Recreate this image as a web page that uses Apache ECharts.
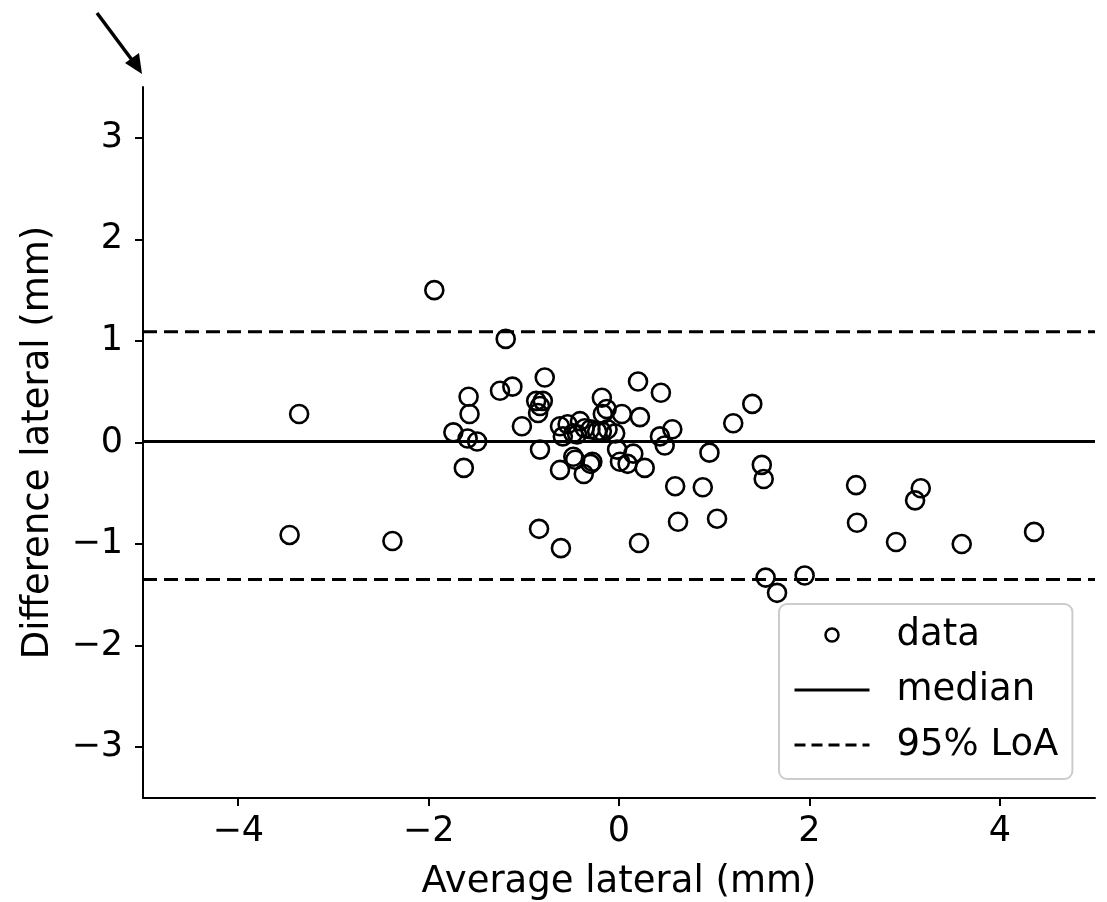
<!DOCTYPE html>
<html>
<head>
<meta charset="utf-8">
<script src="https://cdn.jsdelivr.net/npm/echarts@6/dist/echarts.min.js"></script>
<style>
html,body{margin:0;padding:0;background:#fff;}
#chart{width:1107px;height:902px;}
</style>
</head>
<body>
<div id="chart"></div>
<script>
const avgLateral = [-1.94,-1.19,-3.36,-3.46,-2.38,-1.74,-1.58,-1.57,-1.59,-1.49,-1.63,-1.25,-1.12,-1.02,-0.78,-0.87,-0.80,-0.83,-0.85,-0.83,-0.84,-0.61,-0.62,-0.62,-0.54,-0.41,-0.36,-0.59,-0.44,-0.48,-0.30,-0.23,-0.18,-0.12,-0.04,-0.18,-0.13,-0.17,0.03,0.22,0.20,0.44,0.43,0.56,0.48,-0.02,0.15,-0.48,-0.46,-0.28,-0.30,0.01,0.09,-0.37,0.27,0.21,0.59,0.62,0.88,0.95,1.03,1.20,1.40,1.50,1.52,1.54,1.66,1.95,2.49,2.50,2.91,3.11,3.17,3.60,4.36];
const diffLateral = [1.50,1.02,0.28,-0.91,-0.97,0.10,0.45,0.28,0.04,0.01,-0.25,0.51,0.55,0.16,0.64,0.41,0.41,0.36,0.29,-0.07,-0.85,-1.04,-0.27,0.16,0.18,0.21,0.14,0.06,0.08,0.09,0.13,0.11,0.11,0.13,0.09,0.44,0.33,0.28,0.28,0.25,0.60,0.49,0.06,0.13,-0.03,-0.07,-0.11,-0.14,-0.17,-0.19,-0.21,-0.19,-0.21,-0.31,-0.25,-0.99,-0.43,-0.78,-0.44,-0.10,-0.75,0.19,0.38,-0.22,-0.36,-1.33,-1.48,-1.31,-0.42,-0.79,-0.98,-0.57,-0.45,-1.00,-0.88];
const medianValue = 0.01;
const loaUpper = 1.09;
const loaLower = -1.35;
const xRange = [-5, 5];
const yRange = [-3.5, 3.5];
const xTicks = [-4, -2, 0, 2, 4];
const yTicks = [-3, -2, -1, 0, 1, 2, 3];

const FONT = 'DejaVu Sans';
const FS_TICK = 35;
const FS_NAME = 37;
const fmt = v => String(v).replace('-', '\u2212');
const DASH = [14, 7];

const points = avgLateral.map((x, i) => [x, diffLateral[i]]);

const chart = echarts.init(document.getElementById('chart'), null, {renderer: 'canvas'});
chart.setOption({
  animation: false,
  backgroundColor: '#fff',
  grid: {left: 143, right: 12, top: 87, bottom: 104, containLabel: false, outerBoundsMode: 'none'},
  xAxis: {
    type: 'value', min: xRange[0], max: xRange[1], interval: 1,
    name: 'Average lateral (mm)', nameLocation: 'middle', nameGap: 66,
    nameTextStyle: {fontFamily: FONT, fontSize: FS_NAME, color: '#000'},
    axisLine: {show: true, onZero: false, lineStyle: {color: '#000', width: 2}},
    axisTick: {show: true, length: 8, lineStyle: {color: '#000', width: 2},
      customValues: xTicks},
    axisLabel: {fontFamily: FONT, fontSize: FS_TICK, color: '#000', margin: 16,
      customValues: xTicks, formatter: fmt},
    splitLine: {show: false}
  },
  yAxis: {
    type: 'value', min: yRange[0], max: yRange[1], interval: 0.5,
    name: 'Difference lateral (mm)', nameLocation: 'middle', nameGap: 86,
    nameRotate: 90,
    nameTextStyle: {fontFamily: FONT, fontSize: FS_NAME, color: '#000'},
    axisLine: {show: true, onZero: false, lineStyle: {color: '#000', width: 2}},
    axisTick: {show: true, length: 8, lineStyle: {color: '#000', width: 2},
      customValues: yTicks},
    axisLabel: {fontFamily: FONT, fontSize: FS_TICK, color: '#000', margin: 20,
      customValues: yTicks, formatter: fmt},
    splitLine: {show: false}
  },
  legend: {
    left: 779, top: 604, orient: 'vertical',
    padding: [11, 14, 14, 14],
    itemGap: 15, itemWidth: 75, itemHeight: 13,
    backgroundColor: 'rgba(255,255,255,0.85)',
    borderColor: '#cccccc', borderWidth: 2, borderRadius: 8,
    textStyle: {fontFamily: FONT, fontSize: FS_NAME, color: '#000', lineHeight: 40, padding: [0, 0, 0, 22]},
    data: [
      {name: 'data', icon: 'circle', itemStyle: {color: '#fff', borderColor: '#000', borderWidth: 2.5}},
      {name: 'median', itemStyle: {opacity: 0}, lineStyle: {color: '#000', width: 3, type: 'solid'}},
      {name: '95% LoA', itemStyle: {opacity: 0}, lineStyle: {color: '#000', width: 3, type: [11, 6]}}
    ]
  },
  series: [
    {
      name: 'data', type: 'scatter', data: points, symbol: 'circle', symbolSize: 18,
      itemStyle: {color: 'rgba(255,255,255,0)', borderColor: '#000', borderWidth: 2.6, opacity: 1},
      z: 3
    },
    {
      name: 'median', type: 'line', data: [[xRange[0], medianValue], [xRange[1], medianValue]],
      symbol: 'none', itemStyle: {color: '#000'},
      lineStyle: {color: '#000', width: 3, type: 'solid'}, z: 2
    },
    {
      name: '95% LoA', type: 'line', data: [[xRange[0], loaUpper], [xRange[1], loaUpper]],
      symbol: 'none', itemStyle: {color: '#000'},
      lineStyle: {color: '#000', width: 3, type: DASH}, z: 2
    },
    {
      name: '95% LoA', type: 'line', data: [[xRange[0], loaLower], [xRange[1], loaLower]],
      symbol: 'none', itemStyle: {color: '#000'},
      lineStyle: {color: '#000', width: 3, type: DASH}, z: 2
    }
  ],
  graphic: [
    {type: 'line', shape: {x1: 97, y1: 13, x2: 132, y2: 60}, style: {stroke: '#000', lineWidth: 3.5}},
    {type: 'polygon', shape: {points: [[142, 74], [125, 63], [139, 53]]}, style: {fill: '#000'}}
  ]
});
</script>
</body>
</html>
